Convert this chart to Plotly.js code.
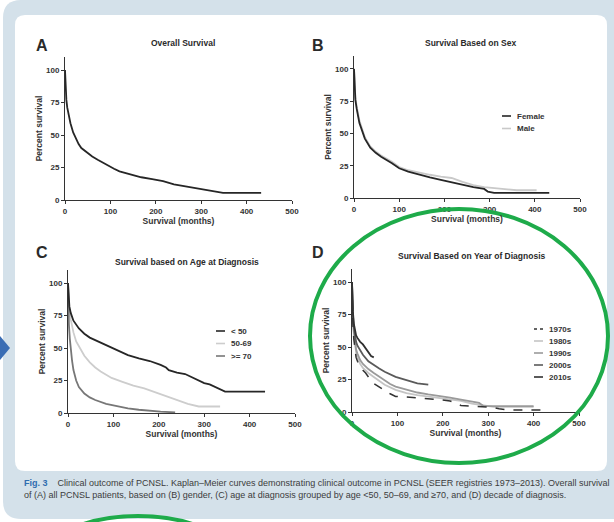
<!DOCTYPE html>
<html><head><meta charset="utf-8">
<script src="https://cdn.plot.ly/plotly-3.0.1.min.js"></script>
<style>html,body{margin:0;padding:0;background:#fff}</style>
</head><body><div id="chart" style="width:614px;height:522px"></div>
<script>
// ---- data ----
const xTicks = [0, 100, 200, 300, 400, 500];
const yTicks = [0, 25, 50, 75, 100];

// A: overall survival
const monthsAll = [0,1,2,3,5,8,12,18,24,30,36,48,60,72,84,96,108,120,144,168,192,216,240,264,288,300,324,348,432];
const survAll   = [100,87,81,77,71,65,59,52,47,43,40,36.5,33.5,31,28.5,26,24,22,19.5,17.5,16,14.5,12,10.5,9,8,7,5.5,5.5];

// B: sex
const sexNames = ['Female', 'Male'];
const monthsFemale = [0,1,3,6,12,24,36,48,60,84,100,120,144,168,192,216,240,264,288,296,310,432];
const survFemale   = [100,86,76,69,58,46,39,35,32,27,23,20.5,18,16,14,12,10,8.5,7,5,4,4];
const monthsMale   = [0,1,3,6,12,24,36,48,60,84,100,120,144,168,192,216,240,264,288,312,340,360,404];
const survMale     = [100,87,78,71,60,47,40,36,33,28,24,21.5,19.5,18,16.5,15.5,12.5,10,8.5,7.5,6.5,6,6];

// C: age at diagnosis
const ageNames = ['< 50', '50-69', '>= 70'];
const monthsU50 = [0,1,3,6,12,24,36,48,60,84,108,132,156,180,204,216,222,240,258,264,276,288,300,312,324,346,434];
const survU50   = [100,90,82,77,71,65,61,58,56,52,48,44.5,42,40,37,35,33,31,30,29,27,24.5,23,22,20,16.5,16.5];
const months5069 = [0,1,3,6,12,18,24,36,48,60,72,96,120,144,168,192,216,240,264,288,335];
const surv5069   = [100,88,78,72,62,55,51,44,39,35,32,27,24,21,19,16,13,10,7,5,5];
const monthsO70 = [0,1,2,4,6,9,12,18,24,36,48,60,84,108,132,156,180,204,236];
const survO70   = [100,80,68,57,49,40,33,25,20,15,12,10,7,5,3.5,2.5,1.5,1,0.5];

// D: decade of diagnosis
const decadeNames = ['1970s', '1980s', '1990s', '2000s', '2010s'];
const months1970 = [0,1,2,4,6,9,12,18,24,30,36,42,48,60,72,84,96,120,144,168,192,216,228,240,264,288,312,324,348,432];
const surv1970   = [100,80,68,56,48,42,39,35,32,30,27,24,22,19,16.5,14,12,11.5,11,10,9.5,8.5,7,5,4.5,4,3.5,2.5,1.5,1.5];
const months1980 = [0,1,2,4,6,9,12,18,24,36,48,60,72,96,120,144,168,192,216,240,264,288,312,400];
const surv1980   = [100,80,70,60,52,46,42,37,34,30,27,24,21,17,14.5,13,12,11,10,8.5,6.5,5,4,4];
const months1990 = [0,1,2,4,6,9,12,18,24,36,48,60,72,84,96,120,144,168,192,216,240,264,280,290,400];
const surv1990   = [100,82,72,62,55,48,45,40,37,33,30,27,24,21.5,19.5,17,15,13.5,12.5,11,9.5,8,7,4.5,4.5];
const months2000 = [0,1,2,4,6,9,12,18,24,36,48,60,72,96,120,144,168];
const surv2000   = [100,84,75,65,59,54,51,47,44,39,36,33.5,31,27,24.5,22,21];
const months2010 = [0,1,2,4,6,9,12,18,24,30,36,42,48];
const surv2010   = [100,85,77,68,63,59,57,54,52,49,46,43,42];

// ---- helpers ----
const W = 614, H = 522;
const px = x => x / W;
const py = y => 1 - y / H;
const FONT = 'Liberation Sans, Arial, sans-serif';

function xaxis(d0, d1, anchor) {
  return {domain:[px(d0), px(d1)], anchor, range:[0,500], tickmode:'array', tickvals:xTicks,
    showline:true, linecolor:'#333', linewidth:1, ticks:'outside', ticklen:3, tickcolor:'#333',
    showgrid:false, zeroline:false, fixedrange:true,
    tickfont:{size:8, weight:'bold', color:'#333'},
    title:{text:'Survival (months)', font:{size:8.5, weight:'bold', color:'#333'}, standoff:2}};
}
function yaxis(d0, d1, anchor) {
  return {domain:[py(d1), py(d0)], anchor, range:[0,110], tickmode:'array', tickvals:yTicks,
    showline:true, linecolor:'#333', linewidth:1, ticks:'outside', ticklen:3, tickcolor:'#333',
    showgrid:false, zeroline:false, fixedrange:true,
    tickfont:{size:8, weight:'bold', color:'#333'},
    title:{text:'Percent survival', font:{size:8.5, weight:'bold', color:'#333'}, standoff:2}};
}
function km(x, y, name, color, xa, ya, width, dash) {
  return {x, y, name, type:'scatter', mode:'lines', xaxis:xa, yaxis:ya,
    line:{color, width: width || 1.8, dash: dash || 'solid', shape:'linear'},
    showlegend:false, hoverinfo:'skip'};
}

const tA = km(monthsAll, survAll, 'All', '#262626', 'x', 'y');
const tFemale = km(monthsFemale, survFemale, sexNames[0], '#262626', 'x2', 'y2');
const tMale = km(monthsMale, survMale, sexNames[1], '#c9c9c9', 'x2', 'y2');
const tU50 = km(monthsU50, survU50, ageNames[0], '#262626', 'x3', 'y3');
const t5069 = km(months5069, surv5069, ageNames[1], '#cdcdcd', 'x3', 'y3');
const tO70 = km(monthsO70, survO70, ageNames[2], '#777777', 'x3', 'y3');
const t1970 = km(months1970, surv1970, decadeNames[0], '#333333', 'x4', 'y4', 1.5, 'dash');
const t1980 = km(months1980, surv1980, decadeNames[1], '#c4c4c4', 'x4', 'y4');
const t1990 = km(months1990, surv1990, decadeNames[2], '#9a9a9a', 'x4', 'y4');
const t2000 = km(months2000, surv2000, decadeNames[3], '#5a5a5a', 'x4', 'y4');
const t2010 = km(months2010, surv2010, decadeNames[4], '#303030', 'x4', 'y4');

const data = [tA, tMale, tFemale, t5069, tO70, tU50, t1980, t1990, t2000, t2010, t1970];

function ann(text, x, y, size, opts) {
  return Object.assign({text, x:px(x), y:py(y), xref:'paper', yref:'paper', showarrow:false,
    font:{size, weight:'bold', color:'#2a2a2a', family:FONT},
    xanchor:'center', yanchor:'middle'}, opts || {});
}

// compact legends (short line sample + label), built from the traces
const legendShapes = [], legendAnns = [];
function legend(traces, x0, yFirst, dy) {
  traces.forEach((t, i) => {
    const y = yFirst + i * dy;
    legendShapes.push({type:'line', xref:'paper', yref:'paper', x0:px(x0), x1:px(x0 + 9), y0:py(y), y1:py(y),
      line:{color:t.line.color, width:1.6, dash: t.line.dash === 'dash' ? 'dot' : 'solid'}});
    legendAnns.push(ann(t.name, x0 + 13, y, 8, {xanchor:'left', font:{size:8, weight:'bold', color:'#333', family:FONT}}));
  });
}
legend([tFemale, tMale], 502, 116, 12.5);
legend([tU50, t5069, tO70], 216, 331, 12.5);
legend([t1970, t1980, t1990, t2000, t2010], 534, 329, 12);

function roundRect(x0, y0, x1, y1, r) {
  const P = (x, y) => px(x) + ',' + py(y);
  return 'M' + P(x0 + r, y0) + ' L' + P(x1 - r, y0) + ' Q' + P(x1, y0) + ' ' + P(x1, y0 + r) +
    ' L' + P(x1, y1 - r) + ' Q' + P(x1, y1) + ' ' + P(x1 - r, y1) +
    ' L' + P(x0 + r, y1) + ' Q' + P(x0, y1) + ' ' + P(x0, y1 - r) +
    ' L' + P(x0, y0 + r) + ' Q' + P(x0, y0) + ' ' + P(x0 + r, y0) + ' Z';
}

const caption = '<span style="color:#2f6db0"><b>Fig. 3</b></span>&nbsp;&nbsp;&nbsp; Clinical outcome of PCNSL. Kaplan–Meier curves demonstrating clinical outcome in PCNSL (SEER registries 1973–2013). Overall survival<br>of (A) all PCNSL patients, based on (B) gender, (C) age at diagnosis grouped by age &lt;50, 50–69, and ≥70, and (D) decade of diagnosis.';

const layout = {
  width: W, height: H, margin:{l:0, r:0, t:0, b:0}, autosize:false,
  paper_bgcolor:'#ffffff', plot_bgcolor:'rgba(0,0,0,0)',
  font:{family:FONT, color:'#333'},
  showlegend:false,
  xaxis: xaxis(65, 292, 'y'),  yaxis: yaxis(57, 200, 'x'),
  xaxis2: xaxis(354, 580, 'y2'), yaxis2: yaxis(56, 198, 'x2'),
  xaxis3: xaxis(68, 295, 'y3'), yaxis3: yaxis(270, 413, 'x3'),
  xaxis4: xaxis(352, 579, 'y4'), yaxis4: yaxis(269, 412, 'x4'),
  shapes: [
    {type:'path', xref:'paper', yref:'paper', path: roundRect(3, 0, 640, 519, 18), fillcolor:'#d4e1ea', line:{width:0}, layer:'below'},
    {type:'path', xref:'paper', yref:'paper', path: roundRect(15, 15, 607, 471, 10), fillcolor:'#ffffff', line:{width:0}, layer:'below'},
    {type:'path', xref:'paper', yref:'paper', path: 'M' + px(0) + ',' + py(336) + ' L' + px(10) + ',' + py(348) + ' L' + px(0) + ',' + py(360) + ' Z', fillcolor:'#3a6db4', line:{width:0}},
    {type:'circle', xref:'paper', yref:'paper', x0:px(310), x1:px(608), y0:py(209), y1:py(463), line:{color:'#1eab4a', width:4}},
    {type:'circle', xref:'paper', yref:'paper', x0:px(30), x1:px(246), y0:py(516), y1:py(636), line:{color:'#1eab4a', width:4}}
  ].concat(legendShapes),
  annotations: [
    ann('A', 42, 45, 16), ann('B', 318, 45, 16), ann('C', 42, 252, 16), ann('D', 318, 252, 16),
    ann('Overall Survival', 183, 43, 8.5),
    ann('Survival Based on Sex', 470, 43, 8.5),
    ann('Survival based on Age at Diagnosis', 187, 262, 8.5),
    ann('Survival Based on Year of Diagnosis', 472, 256, 8.5),
    {text: caption, x:px(22), y:py(476), xref:'paper', yref:'paper', showarrow:false, xanchor:'left', yanchor:'top', align:'left',
     font:{size:9, color:'#3c3c3c', family:'Liberation Sans Narrow, Arial Narrow, sans-serif'}}
  ].concat(legendAnns)
};

Plotly.newPlot('chart', data, layout, {staticPlot:true, displayModeBar:false});
</script></body></html>
